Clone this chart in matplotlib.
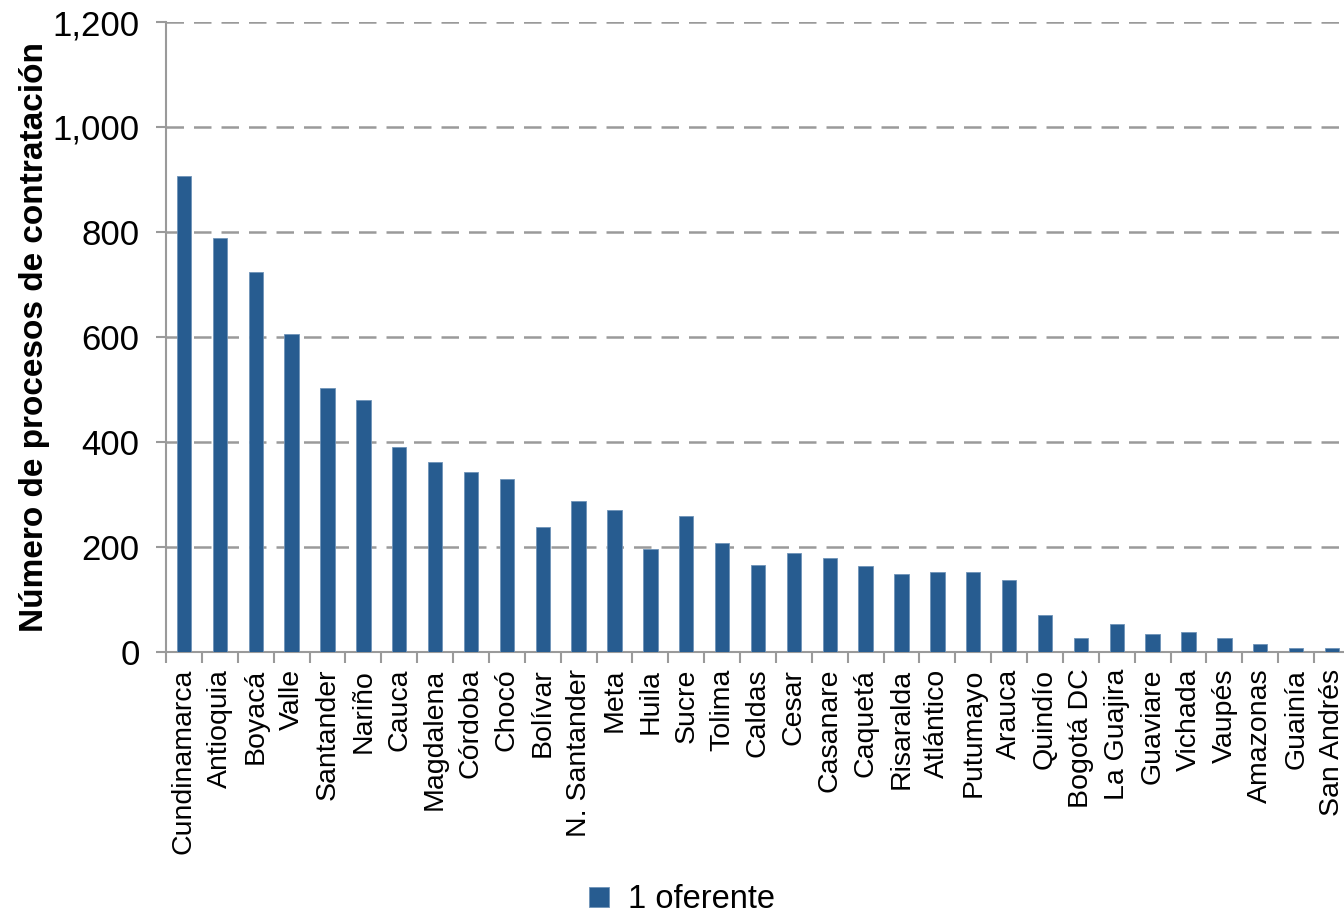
import numpy as np
import matplotlib
matplotlib.use("Agg")
import matplotlib.pyplot as plt
from matplotlib.ticker import FuncFormatter, FixedLocator

plt.rcParams['font.family'] = ['Liberation Sans', 'DejaVu Sans']

departamentos = ["Cundinamarca", "Antioquia", "Boyacá", "Valle", "Santander", "Nariño",
                 "Cauca", "Magdalena", "Córdoba", "Chocó", "Bolívar", "N. Santander",
                 "Meta", "Huila", "Sucre", "Tolima", "Caldas", "Cesar", "Casanare",
                 "Caquetá", "Risaralda", "Atlántico", "Putumayo", "Arauca", "Quindío",
                 "Bogotá DC", "La Guajira", "Guaviare", "Vichada", "Vaupés", "Amazonas",
                 "Guainía", "San Andrés"]
un_oferente = [907, 788, 724, 606, 503, 480, 390, 362, 342, 330, 239, 287,
               271, 196, 259, 208, 165, 188, 180, 164, 149, 152, 152, 137, 70,
               27, 54, 34, 38, 27, 15, 7, 7]

color = "#275C90"
gris = "#9a9a9a"

n = len(departamentos)
fig = plt.figure(figsize=(13.44, 9.16), dpi=100)
# the plot area runs a little past the right edge, as in the original
ax = fig.add_axes([166 / 1344, 1 - 652 / 916, 1184 / 1344, 630 / 916])

x = np.arange(n)
ax.bar(x, un_oferente, width=0.4, color=color, edgecolor="#6f93b8", linewidth=0.6,
       label="1 oferente", zorder=3)

ax.set_xlim(-0.5, n - 0.5)
ax.set_ylim(0, 1200)
ax.set_yticks(np.arange(0, 1201, 200))
ax.yaxis.set_major_formatter(FuncFormatter(lambda v, p: f"{int(v):,}"))
ax.grid(axis="y", color=gris, linestyle=(0, (7, 4)), linewidth=1.8, zorder=0)

ax.set_xticks(x)
ax.set_xticklabels(departamentos, rotation=90, fontsize=20.5, va="top")
ax.tick_params(axis="x", length=0, pad=12)
ax.xaxis.set_minor_locator(FixedLocator(np.arange(-0.5, n + 0.6, 1)))
ax.tick_params(axis="x", which="minor", length=8, color=gris, width=1.5)
ax.tick_params(axis="y", length=7, color=gris, width=1.5, labelsize=25, pad=12)

for s in ["top", "right"]:
    ax.spines[s].set_visible(False)
for s in ["left", "bottom"]:
    ax.spines[s].set_color(gris)
    ax.spines[s].set_linewidth(1.5)

ax.set_ylabel("Número de procesos de contratación", fontsize=24, fontweight="bold", labelpad=2)

fig.legend(loc="center", bbox_to_anchor=(682 / 1344, 1 - 900 / 916), frameon=False,
           fontsize=23.5, handlelength=0.6, handleheight=0.6, handletextpad=0.6)

fig.savefig("out.png", dpi=100)
